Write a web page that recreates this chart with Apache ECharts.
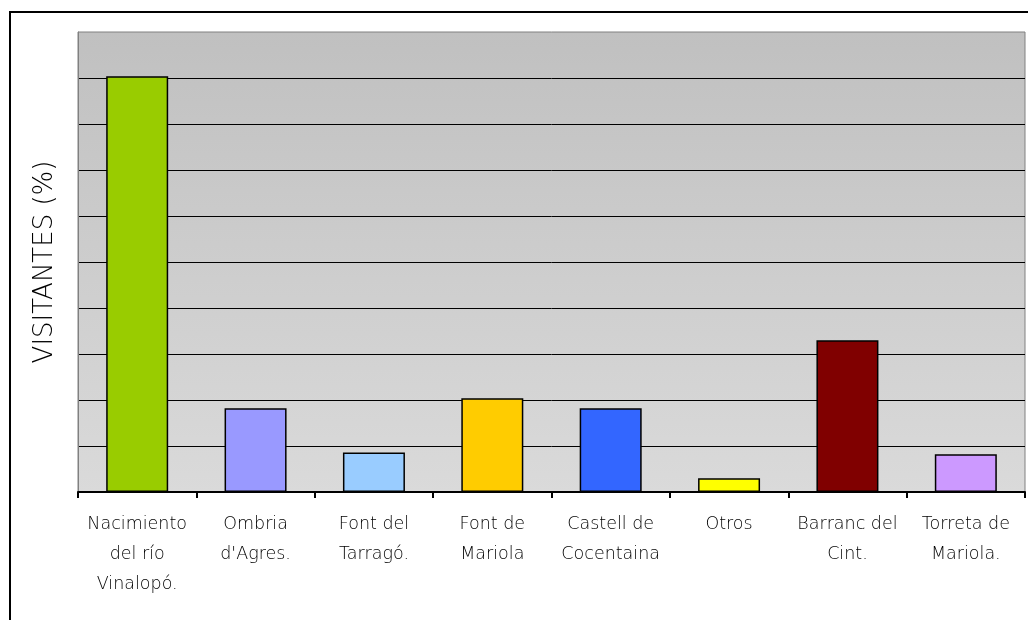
<!DOCTYPE html>
<html><head><meta charset="utf-8">
<script src="https://cdn.jsdelivr.net/npm/echarts@6/dist/echarts.min.js"></script>
<style>
html,body{margin:0;padding:0;background:#fff;}
#frame{position:absolute;left:9px;top:11px;width:1100px;height:700px;border:2px solid #000;box-sizing:border-box;}
#c{position:absolute;left:0;top:0;width:1028px;height:620px;}
</style></head>
<body>
<div id="frame"></div>
<div id="c"></div>
<script>
const categories = ["Nacimiento\ndel río\nVinalopó.", "Ombria\nd'Agres.", "Font del\nTarragó.", "Font de\nMariola", "Castell de\nCocentaina", "Otros", "Barranc del\nCint.", "Torreta de\nMariola."];
const values = [45.2, 9.1, 4.3, 10.2, 9.1, 1.5, 16.5, 4.1];
const colors = ["#99cc00", "#9999ff", "#99ccff", "#ffcc00", "#3366ff", "#ffff00", "#800000", "#cc99ff"];

const chart = echarts.init(document.getElementById('c'));
chart.setOption({
  animation: false,
  grid: {
    left: 78, right: 3, top: 32, bottom: 128,
    show: true, borderColor: '#808080', borderWidth: 1,
    backgroundColor: new echarts.graphic.LinearGradient(0, 0, 0, 1, [
      {offset: 0, color: '#c0c0c0'}, {offset: 1, color: '#dadada'}
    ])
  },
  xAxis: {
    type: 'category',
    data: categories,
    axisLine: {lineStyle: {color: '#000', width: 2}},
    axisTick: {show: true, length: 6, lineStyle: {color: '#000', width: 2}},
    axisLabel: {color: '#000', fontSize: 17.5, fontWeight: 200, fontFamily: 'DejaVu Sans', lineHeight: 30, margin: 17, interval: 0}
  },
  yAxis: {
    type: 'value', min: 0, max: 50, interval: 5,
    name: 'VISITANTES (%)', nameLocation: 'middle', nameGap: 20, nameRotate: 90,
    nameTextStyle: {color: '#000', fontSize: 26, fontWeight: 200, fontFamily: 'DejaVu Sans'},
    axisLabel: {show: false},
    axisTick: {show: false},
    axisLine: {show: true, lineStyle: {color: '#808080', width: 1}},
    splitLine: {show: true, showMaxLine: false, lineStyle: {color: '#000', width: 1}}
  },
  series: [{
    type: 'bar',
    data: values.map((v, i) => ({value: v, itemStyle: {color: colors[i]}})),
    barWidth: 62,
    itemStyle: {borderColor: '#000', borderWidth: 1.5}
  }]
});
</script>
</body></html>
